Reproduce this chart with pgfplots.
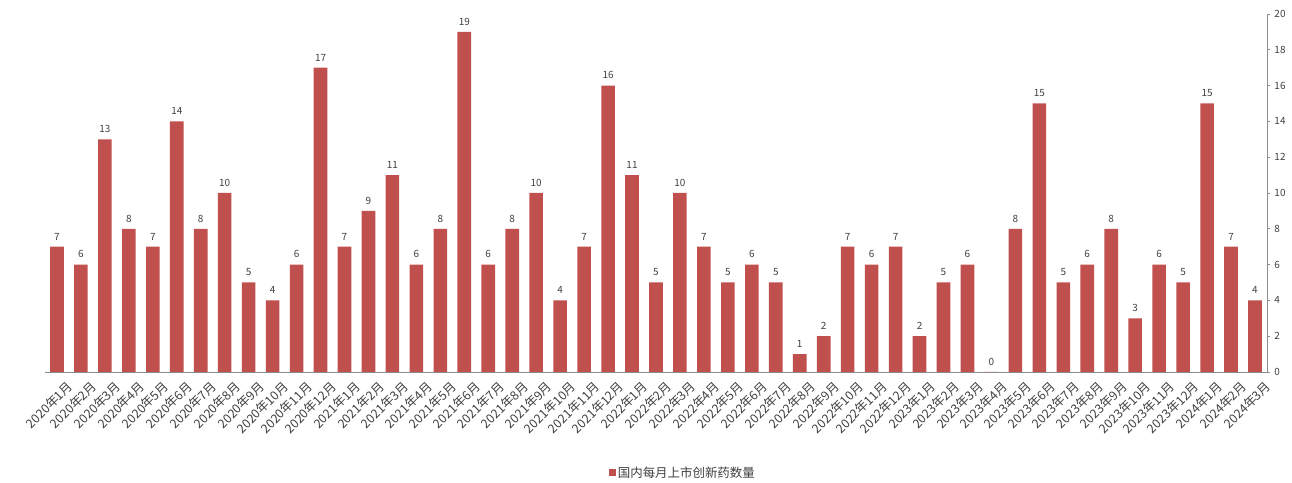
\documentclass[border=0pt]{standalone}
\usepackage{pgfplots}
\pgfplotsset{compat=1.18}
\usepackage{fontspec}
\setmainfont{Noto Sans CJK SC}
\definecolor{barred}{HTML}{C0504D}
\definecolor{txtgray}{HTML}{404040}
\definecolor{axgray}{HTML}{8C8C8C}

\begin{document}
\begin{tikzpicture}[x=1bp,y=1bp]
\useasboundingbox (-45,-111) rectangle (1247,372);
\begin{axis}[
  at={(0,0)}, anchor=south west,
  scale only axis,
  width=1222bp, height=358bp,
  ymin=0, ymax=20,
  xmin=-0.5, xmax=50.5,
  /pgf/number format/assume math mode=true,
  axis y line*=right,
  axis x line*=bottom,
  axis line style={axgray, line width=0.8pt},
  ytick={0,2,...,20},
  yticklabel style={font=\fontsize{10}{12}\selectfont, text=txtgray, xshift=1bp},
  y tick style={axgray, line width=0.6pt},
  ytick align=outside,
  major tick length=3bp,
  xtick={0,...,50},
  x tick style={draw=none},
  xticklabels={2020年1月,2020年2月,2020年3月,2020年4月,2020年5月,2020年6月,2020年7月,2020年8月,2020年9月,2020年10月,2020年11月,2020年12月,
    2021年1月,2021年2月,2021年3月,2021年4月,2021年5月,2021年6月,2021年7月,2021年8月,2021年9月,2021年10月,2021年11月,2021年12月,
    2022年1月,2022年2月,2022年3月,2022年4月,2022年5月,2022年6月,2022年7月,2022年8月,2022年9月,2022年10月,2022年11月,2022年12月,
    2023年1月,2023年2月,2023年3月,2023年4月,2023年5月,2023年6月,2023年7月,2023年8月,2023年9月,2023年10月,2023年11月,2023年12月,
    2024年1月,2024年2月,2024年3月},
  xticklabel style={rotate=45, anchor=north east, font=\fontsize{12.5}{14}\selectfont, text=txtgray, xshift=2bp, yshift=-11bp, inner sep=1bp},
  legend style={at={(0.522,-0.282)}, anchor=center, draw=none, font=\fontsize{12.5}{14}\selectfont, text=txtgray},
  legend image code/.code={\fill[barred] (0bp,-3.5bp) rectangle (7bp,3.5bp);},
  nodes near coords,
  nodes near coords style={font=\fontsize{10}{12}\selectfont, text=txtgray, yshift=3bp},
]
\addplot[ybar, bar width=13.6bp, fill=barred, draw=none] coordinates {
  (0,7) (1,6) (2,13) (3,8) (4,7) (5,14) (6,8) (7,10) (8,5) (9,4) (10,6) (11,17)
  (12,7) (13,9) (14,11) (15,6) (16,8) (17,19) (18,6) (19,8) (20,10) (21,4) (22,7) (23,16)
  (24,11) (25,5) (26,10) (27,7) (28,5) (29,6) (30,5) (31,1) (32,2) (33,7) (34,6) (35,7)
  (36,2) (37,5) (38,6) (39,0) (40,8) (41,15) (42,5) (43,6) (44,8) (45,3) (46,6) (47,5)
  (48,15) (49,7) (50,4)
};
\addlegendentry{国内每月上市创新药数量}
\end{axis}
\end{tikzpicture}
\end{document}
